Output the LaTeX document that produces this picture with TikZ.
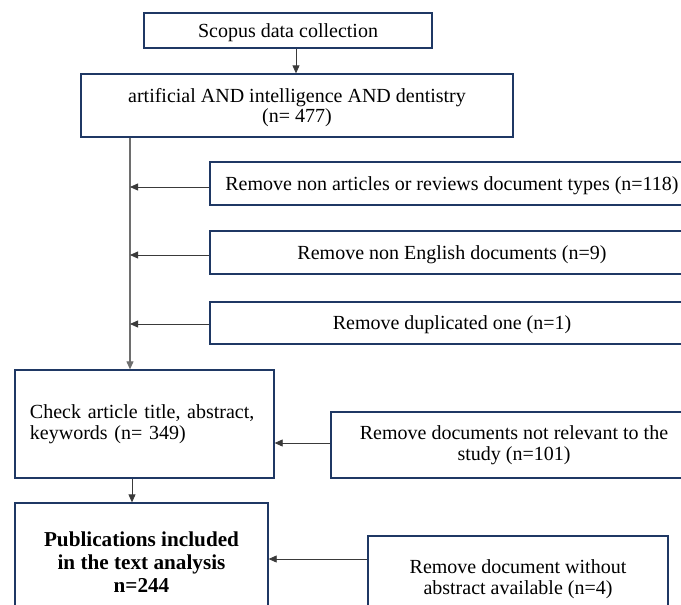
\documentclass[tikz,border=0pt]{standalone}
\usepackage{fontspec}
\setmainfont{Liberation Serif}
\usetikzlibrary{arrows.meta}
\definecolor{navy}{HTML}{1F3864}
\definecolor{linegray}{HTML}{6E6E6E}
\definecolor{arrowgray}{HTML}{3A3A3A}
\begin{document}
\begin{tikzpicture}[x=1pt,y=-1pt,
  box/.style={draw=navy,line width=1.3pt,rectangle,inner sep=0pt,
    font=\fontsize{20}{20.5}\selectfont,align=center},
  lowtext/.style={text depth=-1.5pt},
  boldbox/.style={box,font=\fontsize{21.2}{22.8}\selectfont\bfseries},
  arr/.style={draw=arrowgray,line width=0.8pt,-{Triangle[length=8pt,width=7pt]}},
  mainline/.style={arr,draw=linegray,line width=1.1pt}
]
\useasboundingbox (0,0) rectangle (681,605);
\clip (0,0) rectangle (681,605);
\node[box,lowtext,minimum width=288,minimum height=35] (b1) at (288,30.5) {Scopus data collection};
\node[box,lowtext,minimum width=432,minimum height=63] (b2) at (297,105.5) {artificial AND intelligence AND dentistry\\(n= 477)};
\node[box,lowtext,minimum width=484,minimum height=43] (b3a) at (452,183.5) {Remove non articles or reviews document types (n=118)};
\node[box,lowtext,minimum width=484,minimum height=43] (b3b) at (452,252.5) {Remove non English documents (n=9)};
\node[box,lowtext,minimum width=484,minimum height=42] (b3c) at (452,323) {Remove duplicated one (n=1)};
\node[box,minimum width=259,minimum height=108,text width=229,align=left] (b4) at (144.5,424) {Check article title, abstract,\\keywords (n= 349)};
\node[box,minimum width=366,minimum height=66] (b5) at (514,445) {Remove documents not relevant to the\\study (n=101)};
\node[boldbox,minimum width=253,minimum height=118] (b6) at (141.5,562) {Publications included\\in the text analysis\\n=244};
\node[box,text depth=0pt,minimum width=300,minimum height=82] (b7) at (518,577) {Remove document without\\abstract available (n=4)};
\coordinate (vt) at (130,0);
\coordinate (vb) at (132,0);
\draw[arr] ([xshift=8pt]b1.south) -- ([xshift=8pt]b1.south |- b2.north);
\draw[mainline] (b2.south -| vt) -- (b4.north -| vt);
\draw[arr] ([yshift=-3.5pt]b3a.west) -- ([yshift=-3.5pt]b3a.west -| vt);
\draw[arr] ([yshift=-2.5pt]b3b.west) -- ([yshift=-2.5pt]b3b.west -| vt);
\draw[arr] ([yshift=-1pt]b3c.west) -- ([yshift=-1pt]b3c.west -| vt);
\draw[arr] ([yshift=2pt]b5.west) -- ([yshift=2pt]b5.west -| b4.east);
\draw[arr] (b4.south -| vb) -- (b6.north -| vb);
\draw[arr] ([yshift=18pt]b7.west) -- ([yshift=18pt]b7.west -| b6.east);
\end{tikzpicture}
\end{document}
